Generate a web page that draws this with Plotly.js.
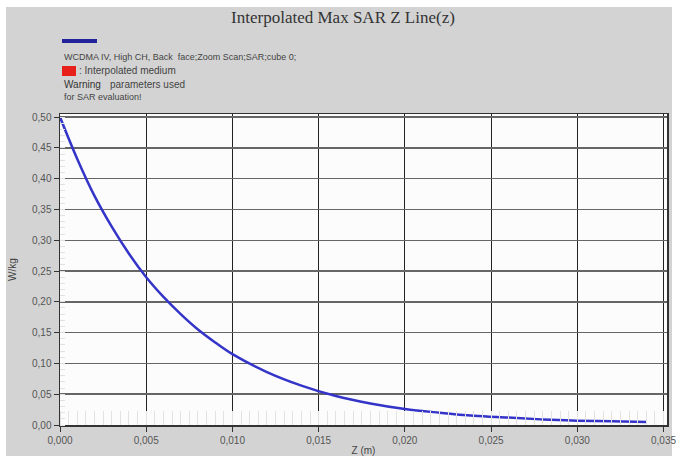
<!DOCTYPE html>
<html>
<head>
<meta charset="utf-8">
<script src="https://cdn.plot.ly/plotly-3.0.1.min.js"></script>
<style>html,body{margin:0;padding:0;background:#fff;}#chart{width:683px;height:456px;}</style>
</head>
<body>
<div id="chart"></div>
<script>
// Data
const zValues = [0.000, 0.001, 0.002, 0.003, 0.004, 0.005, 0.006, 0.007, 0.008, 0.009, 0.010,
                 0.012, 0.014, 0.016, 0.018, 0.020, 0.022, 0.024, 0.026, 0.028, 0.030, 0.032, 0.034];
const sarValues = [0.500, 0.432, 0.372, 0.322, 0.278, 0.240, 0.208, 0.180, 0.155, 0.134, 0.115,
                   0.086, 0.064, 0.047, 0.035, 0.026, 0.020, 0.015, 0.012, 0.009, 0.007, 0.006, 0.005];
const xTickVals = [0, 0.005, 0.010, 0.015, 0.020, 0.025, 0.030, 0.035];
const yTickVals = [0, 0.05, 0.10, 0.15, 0.20, 0.25, 0.30, 0.35, 0.40, 0.45, 0.50];
const titleText = 'Interpolated Max SAR Z Line(z)';
const seriesName = 'WCDMA IV, High CH, Back  face;Zoom Scan;SAR;cube 0;';

const L = 60, R = 16, T = 114, B = 31, W = 683, H = 456;
const pw = W - L - R, ph = H - T - B;
const px = v => (v - L) / pw;           // pixel x -> paper x
const py = v => (H - B - v) / ph;       // pixel y -> paper y

const trace = {
  x: zValues, y: sarValues, type: 'scatter', mode: 'lines',
  line: {color: '#3434c8', width: 2.5, shape: 'spline'},
  showlegend: false, hoverinfo: 'skip'
};

const sans = 'Liberation Sans, Arial, sans-serif';
const layout = {
  width: W, height: H,
  margin: {l: L, r: R, t: T, b: B, pad: 0},
  paper_bgcolor: '#d3d3d3',
  plot_bgcolor: '#fcfcfc',
  separators: ', ',
  showlegend: false,
  font: {family: sans, size: 10, color: '#555'},
  title: {text: titleText, font: {family: 'Liberation Serif, Times New Roman, serif', size: 17, color: '#333'},
          x: 343 / W, xref: 'container', xanchor: 'center', y: 1 - 17 / H, yref: 'container', yanchor: 'middle'},
  xaxis: {
    range: [0, 0.0352], tickvals: xTickVals, tickformat: '.3f',
    ticks: 'outside', ticklen: 5, tickcolor: '#333',
    showgrid: true, gridcolor: '#222', gridwidth: 1,
    showline: true, linecolor: '#333', linewidth: 1.5, mirror: true,
    zeroline: false, tickfont: {size: 10, color: '#555'},
    minor: {dtick: 0.0005, ticks: 'inside', ticklen: 14, tickcolor: '#e2e2e2', showgrid: false},
    title: {text: 'Z (m)', font: {size: 10, color: '#444'}, standoff: 17}
  },
  yaxis: {
    range: [0, 0.505], tickvals: yTickVals, tickformat: '.2f',
    ticks: 'outside', ticklen: 5, tickcolor: '#333',
    showgrid: true, gridcolor: '#666', gridwidth: 1.5,
    showline: true, linecolor: '#333', linewidth: 1.5, mirror: true,
    zeroline: false, tickfont: {size: 10, color: '#555'},
    minor: {dtick: 0.01, ticks: 'inside', ticklen: 5, tickcolor: '#e2e2e2', showgrid: false},
    title: {text: 'W/kg', font: {size: 10, color: '#444'}, standoff: 13}
  },
  shapes: [
    // white surroundings of the grey panel
    {type: 'rect', xref: 'paper', yref: 'paper', x0: px(0), x1: px(W), y0: py(0), y1: py(7), fillcolor: '#fff', line: {width: 0}, layer: 'below'},
    {type: 'rect', xref: 'paper', yref: 'paper', x0: px(0), x1: px(6), y0: py(0), y1: py(H), fillcolor: '#fff', line: {width: 0}, layer: 'below'},
    {type: 'rect', xref: 'paper', yref: 'paper', x0: px(672), x1: px(W), y0: py(0), y1: py(H), fillcolor: '#fff', line: {width: 0}, layer: 'below'},
    // legend markers
    {type: 'line', xref: 'paper', yref: 'paper', x0: px(62), x1: px(97), y0: py(41), y1: py(41), line: {color: '#22229a', width: 4}},
    {type: 'rect', xref: 'paper', yref: 'paper', x0: px(62), x1: px(76), y0: py(76), y1: py(66), fillcolor: '#e8201c', line: {width: 0}}
  ],
  annotations: [
    {text: seriesName, xref: 'paper', yref: 'paper', x: px(62), y: py(57), xanchor: 'left', yanchor: 'middle', showarrow: false, font: {size: 9, color: '#444'}},
    {text: ': Interpolated medium', xref: 'paper', yref: 'paper', x: px(77), y: py(70), xanchor: 'left', yanchor: 'middle', showarrow: false, font: {size: 10, color: '#444'}},
    {text: 'Warning', xref: 'paper', yref: 'paper', x: px(62), y: py(84), xanchor: 'left', yanchor: 'middle', showarrow: false, font: {size: 10, color: '#333'}},
    {text: 'parameters used', xref: 'paper', yref: 'paper', x: px(108), y: py(84), xanchor: 'left', yanchor: 'middle', showarrow: false, font: {size: 10, color: '#444'}},
    {text: 'for SAR evaluation!', xref: 'paper', yref: 'paper', x: px(62), y: py(97), xanchor: 'left', yanchor: 'middle', showarrow: false, font: {size: 9, color: '#444'}}
  ]
};

Plotly.newPlot('chart', [trace], layout, {displayModeBar: false, staticPlot: true});
</script>
</body>
</html>
